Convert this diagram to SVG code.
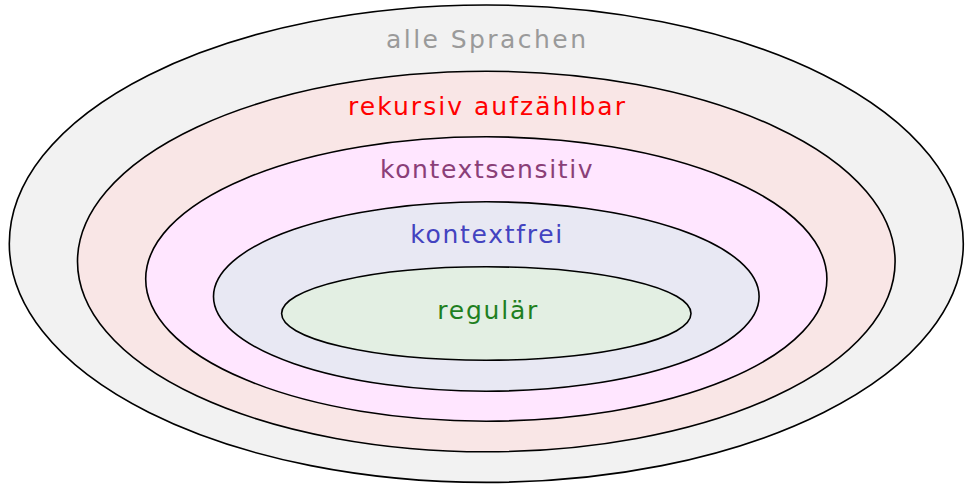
<svg xmlns="http://www.w3.org/2000/svg" width="973" height="499" viewBox="0 0 973 499">
<style>
.set{stroke:#000;stroke-width:1.6}
.lbl{font-family:"DejaVu Sans","Liberation Sans",sans-serif;font-size:25px;text-anchor:middle}
</style>
<rect width="973" height="499" fill="#fff"/>
<g id="alle">
<ellipse class="set" cx="486.3" cy="243.7" rx="477" ry="238.7" fill="#f2f2f2"/>
<text class="lbl" x="486" y="48.3" fill="#9a9a9a" textLength="200" lengthAdjust="spacing">alle Sprachen</text>
</g>
<g id="rekursiv">
<ellipse class="set" cx="486.3" cy="261.5" rx="408.8" ry="190.3" fill="#f9e6e6"/>
<text class="lbl" x="486.5" y="115" fill="#ff0000" textLength="277" lengthAdjust="spacing">rekursiv aufzählbar</text>
</g>
<g id="kontextsensitiv">
<ellipse class="set" cx="486.3" cy="279" rx="340.6" ry="142.2" fill="#ffe6ff"/>
<text class="lbl" x="486.3" y="178.3" fill="#8a3f78" textLength="212.7" lengthAdjust="spacing">kontextsensitiv</text>
</g>
<g id="kontextfrei">
<ellipse class="set" cx="486.3" cy="296.5" rx="272.8" ry="94.7" fill="#e8e8f3"/>
<text class="lbl" x="486.2" y="243.3" fill="#4343c0" textLength="152" lengthAdjust="spacing">kontextfrei</text>
</g>
<g id="regulaer">
<ellipse class="set" cx="486.3" cy="313.5" rx="204.7" ry="46.7" fill="#e3efe3"/>
<text class="lbl" x="487.3" y="319.3" fill="#1f7f1f" textLength="100" lengthAdjust="spacing">regulär</text>
</g>
<g id="connectors"/>
</svg>
